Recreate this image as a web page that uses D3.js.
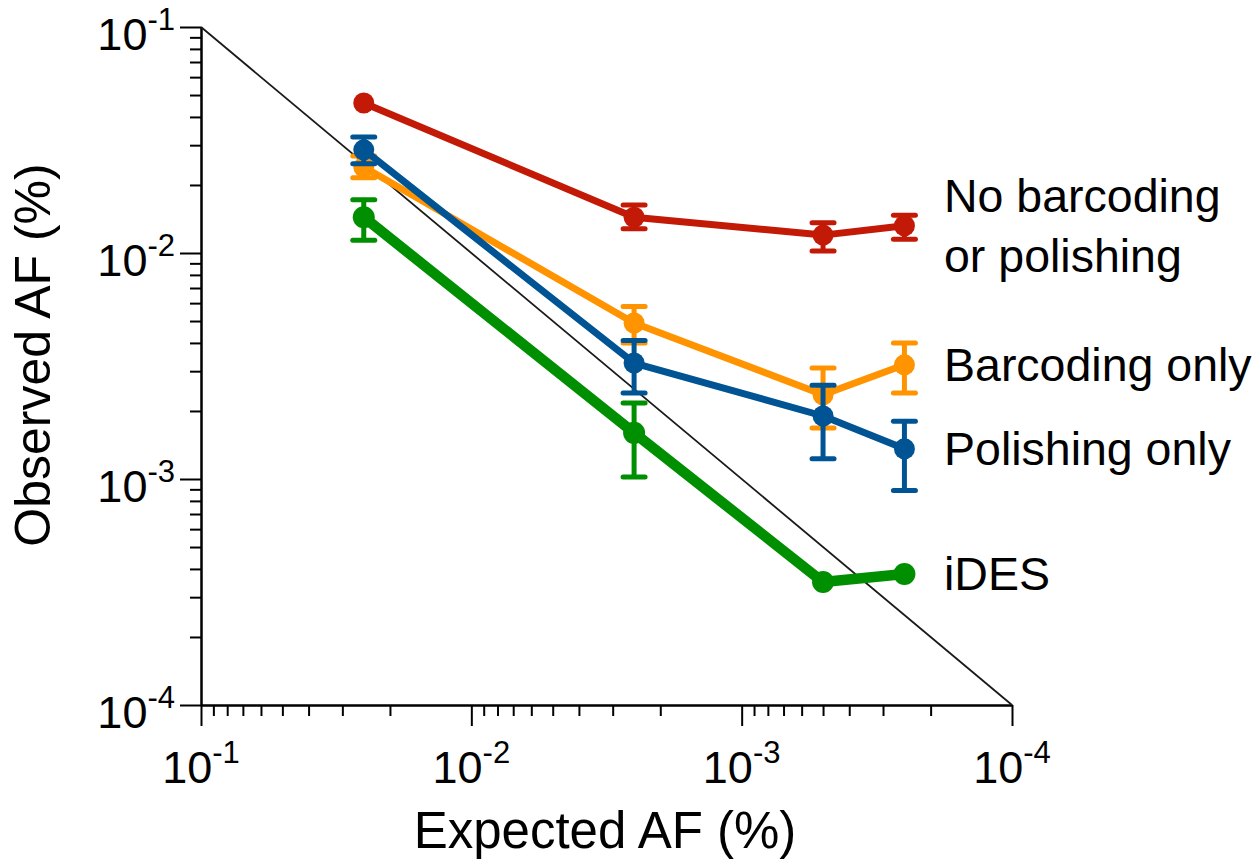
<!DOCTYPE html>
<html>
<head>
<meta charset="utf-8">
<script src="https://cdn.jsdelivr.net/npm/d3@7"></script>
<style>
  body { margin: 0; background: #fff; }
  text { font-family: "Liberation Sans", Arial, Helvetica, sans-serif; fill: #000; }
</style>
</head>
<body>
<svg id="chart"></svg>
<script>
// expected allele fraction (%) for each dilution
const expectedAF = [0.025, 0.0025, 0.0005, 0.00025]

// observed AF per method: mean, upper and lower error (null = hidden behind symbol)
const noBarcodingMean = [0.0461, 0.0144, 0.0120, 0.0132]
const noBarcodingHi   = [null, 0.0163, 0.0136, 0.0147]
const noBarcodingLo   = [null, 0.0128, 0.0102, 0.0115]

const barcodingMean = [0.0240, 0.0049, 0.00236, 0.0032]
const barcodingHi   = [0.0269, 0.0058, 0.0031, 0.0040]
const barcodingLo   = [0.0215, 0.0040, 0.00168, 0.0024]

const polishingMean = [0.0286, 0.00326, 0.0019, 0.00136]
const polishingHi   = [0.0326, 0.0041, 0.0026, 0.0018]
const polishingLo   = [0.0248, 0.0024, 0.00123, 0.00089]

const idesMean = [0.0144, 0.0016, 0.00035, 0.00038]
const idesHi   = [0.0172, 0.00217, null, null]
const idesLo   = [0.0114, 0.00102, null, null]

const seriesLabels = [['No barcoding', 'or polishing'], ['Barcoding only'], ['Polishing only'], ['iDES']]
const axisDomain = [0.1, 0.0001]
const majorTicks = [0.1, 0.01, 0.001, 0.0001]
const tickExponents = ['-1', '-2', '-3', '-4']

class LogLogChart {
    constructor(_config, _data) {
        this.config = {
            parentElement: _config.parentElement,
            containerWidth: 1259,
            containerHeight: 865,
            plot: {left: 201, right: 1012, top: 27, bottom: 705},
        }
        this.data = _data
        this.initVis()
    }

    initVis() {
        let vis = this
        let p = vis.config.plot

        vis.svg = d3.select(vis.config.parentElement)
            .attr('width', vis.config.containerWidth)
            .attr('height', vis.config.containerHeight)

        vis.xScale = d3.scaleLog().domain(axisDomain).range([p.left, p.right])
        vis.yScale = d3.scaleLog().domain(axisDomain).range([p.top, p.bottom])

        // minor ticks 2..9 in every decade
        vis.minorTicks = []
        majorTicks.slice(1).forEach(d => {
            for (let k = 2; k <= 9; k++) vis.minorTicks.push(k * d)
        })

        vis.renderAxes()
        vis.renderVis()
    }

    renderAxes() {
        let vis = this
        let p = vis.config.plot

        const styleAxis = g => {
            g.selectAll('path, line').attr('stroke', '#000').attr('stroke-width', 2)
            g.selectAll('text').remove()
        }

        vis.svg.append('g')
            .attr('transform', `translate(${p.left},0)`)
            .call(d3.axisLeft(vis.yScale).tickValues(vis.minorTicks).tickSize(11).tickSizeOuter(0).tickFormat(''))
            .call(styleAxis)
        vis.svg.append('g')
            .attr('transform', `translate(${p.left},0)`)
            .call(d3.axisLeft(vis.yScale).tickValues(majorTicks).tickSize(21).tickSizeOuter(0).tickFormat(''))
            .call(styleAxis)

        vis.svg.append('g')
            .attr('transform', `translate(0,${p.bottom})`)
            .call(d3.axisBottom(vis.xScale).tickValues(vis.minorTicks).tickSize(11).tickSizeOuter(0).tickFormat(''))
            .call(styleAxis)
        vis.svg.append('g')
            .attr('transform', `translate(0,${p.bottom})`)
            .call(d3.axisBottom(vis.xScale).tickValues(majorTicks).tickSize(21).tickSizeOuter(0).tickFormat(''))
            .call(styleAxis)

        // power-of-ten labels
        const addPower = (sel, exp) => {
            sel.append('tspan').text('10')
            sel.append('tspan').attr('font-size', 31).attr('dy', -20).text(exp)
        }

        majorTicks.forEach((t, i) => {
            vis.svg.append('text')
                .attr('x', 175)
                .attr('y', vis.yScale(t) + 23)
                .attr('text-anchor', 'end')
                .attr('font-size', 45)
                .call(addPower, tickExponents[i])

            vis.svg.append('text')
                .attr('x', vis.xScale(t))
                .attr('y', p.bottom + 78)
                .attr('text-anchor', 'middle')
                .attr('font-size', 45)
                .call(addPower, tickExponents[i])
        })

        vis.svg.append('text')
            .attr('transform', 'translate(50,355) rotate(-90)')
            .attr('text-anchor', 'middle')
            .attr('font-size', 50)
            .text('Observed AF (%)')

        vis.svg.append('text')
            .attr('x', 605)
            .attr('y', 848)
            .attr('text-anchor', 'middle')
            .attr('font-size', 51)
            .text('Expected AF (%)')

        // line of identity
        vis.svg.append('path')
            .datum(axisDomain)
            .attr('d', d3.line().x(d => vis.xScale(d)).y(d => vis.yScale(d)))
            .attr('fill', 'none')
            .attr('stroke', '#1a1a1a')
            .attr('stroke-width', 1.8)
    }

    renderVis() {
        let vis = this

        vis.data.forEach(s => {
            const pts = expectedAF.map((x, i) => ({x: x, y: s.mean[i], hi: s.hi[i], lo: s.lo[i]}))
            const g = vis.svg.append('g')

            g.append('path')
                .datum(pts)
                .attr('d', d3.line().x(d => vis.xScale(d.x)).y(d => vis.yScale(d.y)))
                .attr('fill', 'none')
                .attr('stroke', s.color)
                .attr('stroke-width', s.lineWidth)
                .attr('stroke-linejoin', 'round')

            const bars = pts.filter(d => d.hi != null)
            g.selectAll('.err')
                .data(bars)
                .join('line')
                .attr('x1', d => vis.xScale(d.x))
                .attr('x2', d => vis.xScale(d.x))
                .attr('y1', d => vis.yScale(d.hi))
                .attr('y2', d => vis.yScale(d.lo))
                .attr('stroke', s.color)
                .attr('stroke-width', 5)

            g.selectAll('.cap')
                .data(bars.flatMap(d => [{x: d.x, y: d.hi}, {x: d.x, y: d.lo}]))
                .join('line')
                .attr('x1', d => vis.xScale(d.x) - 11)
                .attr('x2', d => vis.xScale(d.x) + 11)
                .attr('y1', d => vis.yScale(d.y))
                .attr('y2', d => vis.yScale(d.y))
                .attr('stroke', s.color)
                .attr('stroke-width', 5)
                .attr('stroke-linecap', 'round')

            g.selectAll('circle')
                .data(pts)
                .join('circle')
                .attr('cx', d => vis.xScale(d.x))
                .attr('cy', d => vis.yScale(d.y))
                .attr('r', s.radius)
                .attr('fill', s.color)

            // series label next to the last point
            const last = pts[pts.length - 1]
            const cy = vis.yScale(last.y)
            const n = s.label.length
            s.label.forEach((line, i) => {
                vis.svg.append('text')
                    .attr('x', 944)
                    .attr('y', cy + 16 + (i - (n - 1) / 2) * 60)
                    .attr('font-size', 46.5)
                    .text(line)
            })
        })
    }
}

const chart = new LogLogChart({parentElement: '#chart'}, [
    {label: seriesLabels[0], mean: noBarcodingMean, hi: noBarcodingHi, lo: noBarcodingLo, color: '#C21A06', lineWidth: 7, radius: 10.5},
    {label: seriesLabels[1], mean: barcodingMean, hi: barcodingHi, lo: barcodingLo, color: '#FF9300', lineWidth: 7, radius: 10.5},
    {label: seriesLabels[2], mean: polishingMean, hi: polishingHi, lo: polishingLo, color: '#005493', lineWidth: 7, radius: 10.5},
    {label: seriesLabels[3], mean: idesMean, hi: idesHi, lo: idesLo, color: '#008F00', lineWidth: 10.5, radius: 11},
])
</script>
</body>
</html>
